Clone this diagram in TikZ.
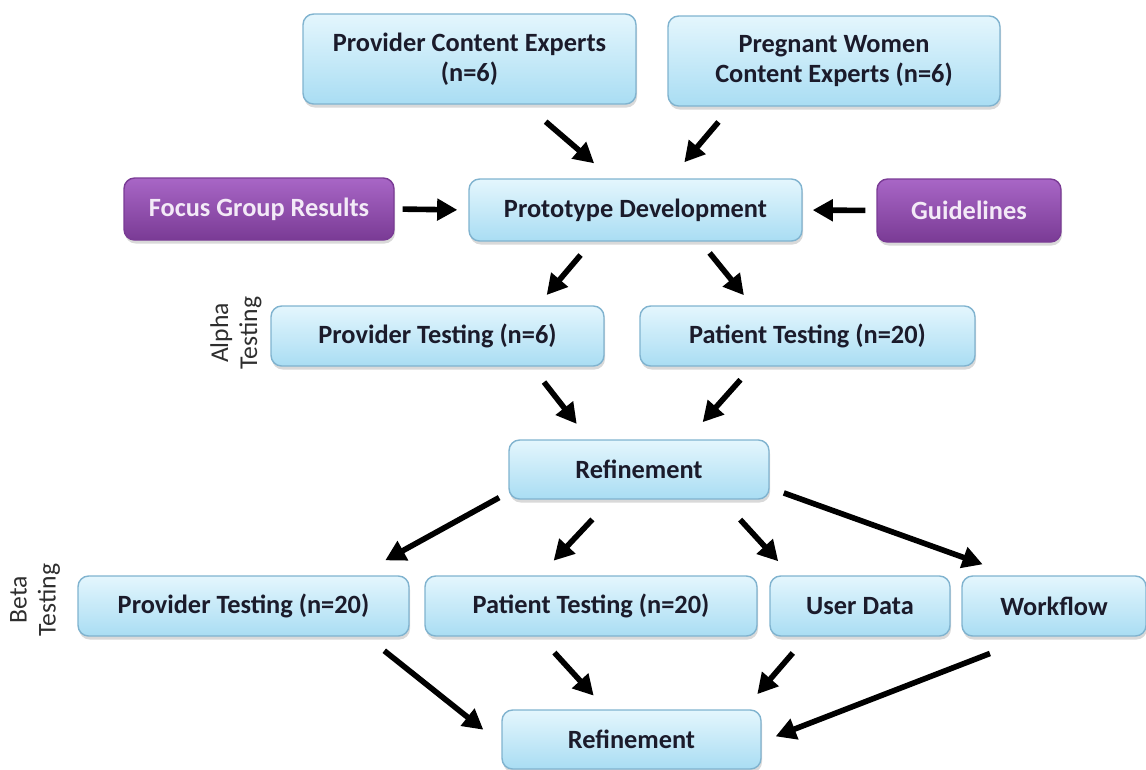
\documentclass[tikz,border=0pt]{standalone}
\usepackage{fontspec}
\setmainfont{Carlito}
\usetikzlibrary{arrows.meta,shadows}

\definecolor{boxTop}{HTML}{E4F6FD}
\definecolor{boxBottom}{HTML}{A9DDF3}
\definecolor{boxLine}{HTML}{80B3CF}
\definecolor{plumTop}{HTML}{A866C6}
\definecolor{plumBottom}{HTML}{7A3B95}
\definecolor{plumText}{HTML}{F3EAF7}
\definecolor{inkText}{HTML}{1B1B2B}
\definecolor{phaseText}{HTML}{2E2E2E}

\begin{document}
\begin{tikzpicture}
[x=0.02cm,y=-0.02cm,
  stageDecorate/.style={rectangle,rounded corners=6pt,draw=boxLine,line width=0.8pt,
    top color=boxTop,bottom color=boxBottom,text=inkText,align=center,inner sep=0pt,
    font=\fontsize{15}{17}\selectfont\bfseries,
    drop shadow={opacity=0.3,shadow xshift=0.6pt,shadow yshift=-2pt}},
  inputDecorate/.style={stageDecorate,draw=plumBottom,top color=plumTop,
    bottom color=plumBottom,text=plumText},
  phaseDecorate/.style={rotate=90,align=center,text=phaseText,
    font=\fontsize{14.6}{16.5}\selectfont},
  arrowDecorate/.style={-{Triangle[length=11.5pt,width=12pt]},line width=3.2pt}]
\useasboundingbox (0,0) rectangle (1146,769);
%% stages of the process
\foreach \nodename/\x/\y/\w/\h/\txt in {
  provExperts/469.5/59/6.66/1.8/{Provider Content Experts\\(n=6)},
  momExperts/834/61/6.64/1.8/{Pregnant Women\\Content Experts (n=6)},
  proto/635.5/210/6.66/1.24/{Prototype Development},
  alphaProv/437.5/336/6.66/1.2/{Provider Testing (n=6)},
  alphaPat/807.5/336/6.7/1.2/{Patient Testing (n=20)},
  refineA/639/469.5/5.2/1.18/{Refinement},
  betaProv/243.5/606/6.62/1.2/{Provider Testing (n=20)},
  betaPat/591/606/6.64/1.2/{Patient Testing (n=20)},
  userData/860/606/3.6/1.2/{User Data},
  workflow/1054/606/3.68/1.2/{Workflow},
  refineB/631.5/739.5/5.18/1.18/{Refinement}}
{
  \node (\nodename) at (\x,\y) [stageDecorate,minimum width=\w cm,minimum height=\h cm] {\txt};
}
%% outside inputs
\node (focus) at (259,209) [inputDecorate,minimum width=5.4cm,minimum height=1.24cm] {Focus Group Results};
\node (guide) at (969,210.5) [inputDecorate,minimum width=3.68cm,minimum height=1.26cm] {Guidelines};
%% phase labels
\node (alphaLabel) at (236,333) [phaseDecorate] {Alpha\\Testing};
\node (betaLabel) at (35,600) [phaseDecorate] {Beta\\Testing};
%% arrows between stages
\foreach \startnode/\sa/\endnode/\ea/\gapa/\gapb in {
  provExperts/-39/proto/127/0.52/0.46,
  momExperts/204/proto/42/0.40/0.42,
  focus/east/proto/west/0.16/0.22,
  guide/west/proto/east/0.22/0.20,
  proto/216/alphaProv/17/0.35/0.27,
  proto/-26.5/alphaPat/151/0.29/0.26,
  alphaProv/-18/refineA/149/0.39/0.39,
  alphaPat/209/refineA/32/0.35/0.46,
  refineA/190/betaProv/15/0.21/0.62,
  refineA/227/betaPat/149/0.54/0.40,
  refineA/-20/userData/156/0.54/0.38,
  refineA/-8/workflow/143/0.30/0.65,
  betaProv/-14/refineB/182/0.45/0.46,
  betaPat/211/refineB/130/0.43/0.37,
  userData/210/refineB/15/0.43/0.40,
  workflow/236/refineB/-1/0.93/0.30}
{
  \draw[arrowDecorate,shorten <=\gapa cm,shorten >=\gapb cm] (\startnode.\sa) -- (\endnode.\ea);
}
\end{tikzpicture}
\end{document}
